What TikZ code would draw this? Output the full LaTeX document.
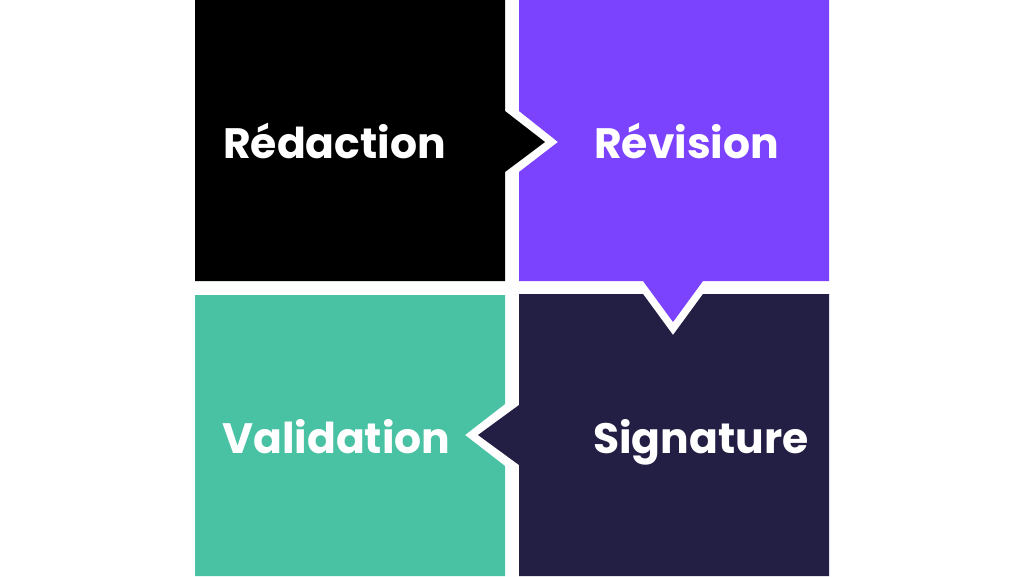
\documentclass[tikz,border=0pt]{standalone}
\usepackage{fontspec}
\newfontfamily\boxfont{Poppins}
\definecolor{ink}{HTML}{000000}
\definecolor{violet}{HTML}{7C43FF}
\definecolor{night}{HTML}{231E44}
\definecolor{mint}{HTML}{49C1A3}
\tikzset{
  steplabel/.style={anchor=base west, text=white, font=\boxfont\bfseries\fontsize{42.5}{46}\selectfont, inner sep=0pt}
}
\begin{document}
\begin{tikzpicture}[x=1pt,y=-1pt]
        \useasboundingbox (0,0) rectangle (1024,576);
        % the four blocks, each with its arrow notch
        \fill[ink] (195,0) -- (505,0) -- (505,111) -- (545,142) -- (505,172) -- (505,281) -- (195,281) -- cycle;
        \fill[violet] (519,0) -- (829,0) -- (829,281) -- (703,281) -- (673,322) -- (643,281) -- (519,281) -- (519,172) -- (558,142) -- (519,111) -- cycle;
        \fill[night] (519,294) -- (643,294) -- (673,335) -- (703,294) -- (829,294) -- (829,576) -- (519,576) -- (519,465) -- (478,435) -- (519,405) -- cycle;
        \fill[mint] (195,295) -- (505,295) -- (505,404) -- (465,435) -- (505,466) -- (505,576) -- (195,576) -- cycle;
        % labels
        \node[steplabel] (redaction) at (223,158) {Rédaction};
        \node[steplabel] (revision) at (594,158) {Révision};
        \node[steplabel] (validation) at (222,453) {Validation};
        \node[steplabel] (signature) at (593,453) {Signature};
    \end{tikzpicture}
\end{document}
